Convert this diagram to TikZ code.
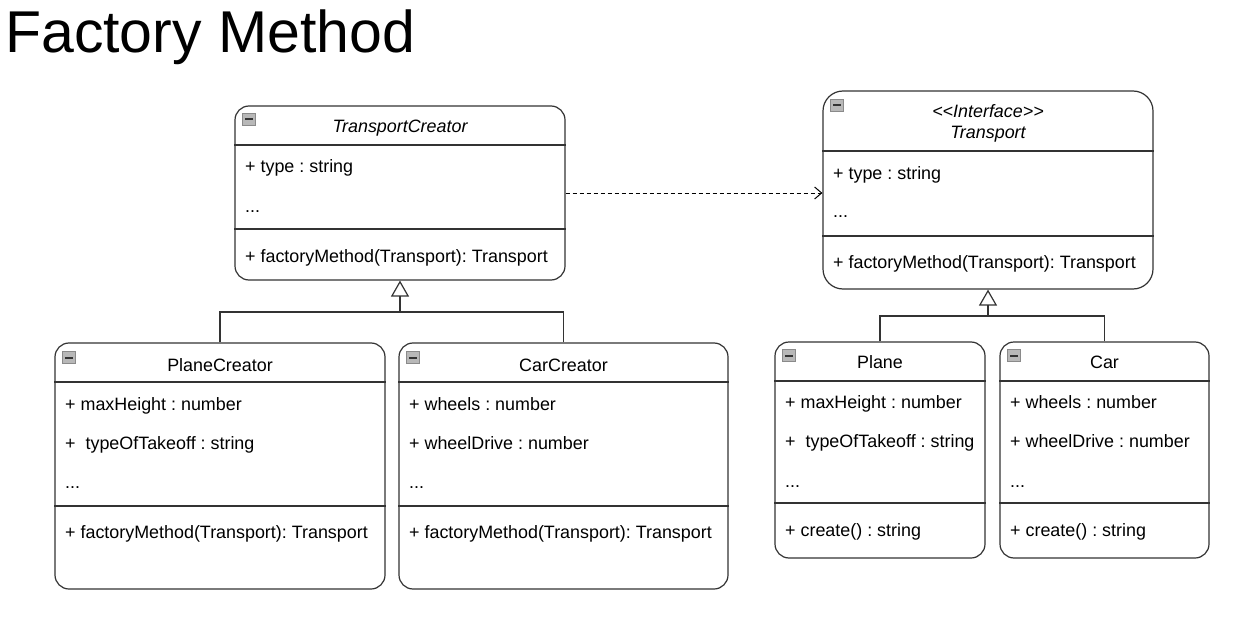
\documentclass[tikz,border=0pt]{standalone}
\usepackage{fontspec}
\setmainfont{Liberation Sans}
\usetikzlibrary{arrows.meta}
\frenchspacing
\definecolor{linec}{HTML}{333333}
\definecolor{iconfill}{HTML}{B8B8B8}
\definecolor{iconedge}{HTML}{8A8A8A}
\tikzset{
  classbox/.style={draw=linec, line width=1.2pt, rounded corners=14pt, fill=white, inner sep=0pt},
  sep/.style={draw=linec, line width=1.2pt},
  txt/.style={anchor=base west, inner sep=0pt, font=\fontsize{17.9}{21}\selectfont},
  ttl/.style={anchor=base, inner sep=0pt, font=\fontsize{17.9}{21}\selectfont},
  ittl/.style={anchor=base, inner sep=0pt, font=\fontsize{17.9}{21}\selectfont\itshape},
  iconbox/.style={draw=iconedge, fill=iconfill, line width=0.8pt, minimum width=13pt, minimum height=12pt, inner sep=0pt,
    path picture={\draw[line width=2pt, black!80] ([xshift=2.5pt]path picture bounding box.west) -- ([xshift=-2.5pt]path picture bounding box.east);}},
  conn/.style={draw=linec, line width=1.2pt},
  inherit/.style={conn, -{Triangle[open, width=18pt, length=16pt, line width=1.2pt]}},
  depend/.style={draw=black, line width=1pt, dash pattern=on 4pt off 3pt, -{Straight Barb[length=7pt, width=12pt, line width=1pt]}}
}
\begin{document}
\begin{tikzpicture}[x=1pt, y=-1pt]
\useasboundingbox (0,0) rectangle (1240,623);
\fill[white] (0,0) rectangle (1240,623);

% title
\node[anchor=base west, inner sep=0pt, font=\fontsize{59}{62}\selectfont] (title) at (5,53) {Factory Method};

% ---------- TransportCreator ----------
\node[classbox, minimum width=330pt, minimum height=174pt] (tc) at (400,193) {};
\draw[sep] (tc.west |- 0,145) -- (tc.east |- 0,145);
\draw[sep] (tc.west |- 0,229) -- (tc.east |- 0,229);
\node[iconbox] (tci) at (249,119.5) {};
\node[ittl] (tct) at (400,133) {TransportCreator};
\node[txt] (tc1) at (245,173) {+ type : string};
\node[txt] (tc2) at (245,212) {...};
\node[txt] (tc3) at (245,262) {+ factoryMethod(Transport): Transport};

% ---------- Transport ----------
\node[classbox, rounded corners=20pt, minimum width=330pt, minimum height=198pt] (tr) at (988,190) {};
\draw[sep] (tr.west |- 0,151) -- (tr.east |- 0,151);
\draw[sep] (tr.west |- 0,236) -- (tr.east |- 0,236);
\node[iconbox] (tri) at (837,105) {};
\node[ittl] (trs) at (988,118) {<{}<Interface>{}>};
\node[ittl] (trt) at (988,139) {Transport};
\node[txt] (tr1) at (833,179) {+ type : string};
\node[txt] (tr2) at (833,218) {...};
\node[txt] (tr3) at (833,268) {+ factoryMethod(Transport): Transport};

% ---------- PlaneCreator ----------
\node[classbox, minimum width=330pt, minimum height=246pt] (pc) at (220,466) {};
\draw[sep] (pc.west |- 0,382) -- (pc.east |- 0,382);
\draw[sep] (pc.west |- 0,506) -- (pc.east |- 0,506);
\node[iconbox] (pci) at (69,357.5) {};
\node[ttl] (pct) at (220,371) {PlaneCreator};
\node[txt] (pc1) at (65,410) {+ maxHeight : number};
\node[txt] (pc2) at (65,449) {+\ \ typeOfTakeoff : string};
\node[txt] (pc3) at (65,488) {...};
\node[txt] (pc4) at (65,538) {+ factoryMethod(Transport): Transport};

% ---------- CarCreator ----------
\node[classbox, minimum width=329pt, minimum height=246pt] (cc) at (563.5,466) {};
\draw[sep] (cc.west |- 0,382) -- (cc.east |- 0,382);
\draw[sep] (cc.west |- 0,506) -- (cc.east |- 0,506);
\node[iconbox] (cci) at (413,357.5) {};
\node[ttl] (cct) at (563.5,371) {CarCreator};
\node[txt] (cc1) at (409,410) {+ wheels : number};
\node[txt] (cc2) at (409,449) {+ wheelDrive : number};
\node[txt] (cc3) at (409,488) {...};
\node[txt] (cc4) at (409,538) {+ factoryMethod(Transport): Transport};

% ---------- Plane ----------
\node[classbox, minimum width=210pt, minimum height=216pt] (pl) at (880,450) {};
\draw[sep] (pl.west |- 0,381) -- (pl.east |- 0,381);
\draw[sep] (pl.west |- 0,503) -- (pl.east |- 0,503);
\node[iconbox] (pli) at (789,355.5) {};
\node[ttl] (plt) at (880,368) {Plane};
\node[txt] (pl1) at (785,408) {+ maxHeight : number};
\node[txt] (pl2) at (785,447) {+\ \ typeOfTakeoff : string};
\node[txt] (pl3) at (785,487) {...};
\node[txt] (pl4) at (785,536) {+ create() : string};

% ---------- Car ----------
\node[classbox, minimum width=209pt, minimum height=216pt] (car) at (1104.5,450) {};
\draw[sep] (car.west |- 0,381) -- (car.east |- 0,381);
\draw[sep] (car.west |- 0,503) -- (car.east |- 0,503);
\node[iconbox] (cari) at (1014,355.5) {};
\node[ttl] (cart) at (1104.5,368) {Car};
\node[txt] (car1) at (1010,408) {+ wheels : number};
\node[txt] (car2) at (1010,447) {+ wheelDrive : number};
\node[txt] (car3) at (1010,487) {...};
\node[txt] (car4) at (1010,536) {+ create() : string};

% ---------- connectors ----------
\coordinate (j1) at (400,312);
\draw[inherit] (pc.north) |- (j1) -- (tc.south);
\draw[conn] (cc.north) |- (j1);

\coordinate (j2) at (988,316);
\draw[inherit] (pl.north) |- (j2) -- (tr.south);
\draw[conn] (car.north) |- (j2);

\draw[depend] (tc.east) -- (tc.east -| tr.west);
\end{tikzpicture}
\end{document}
